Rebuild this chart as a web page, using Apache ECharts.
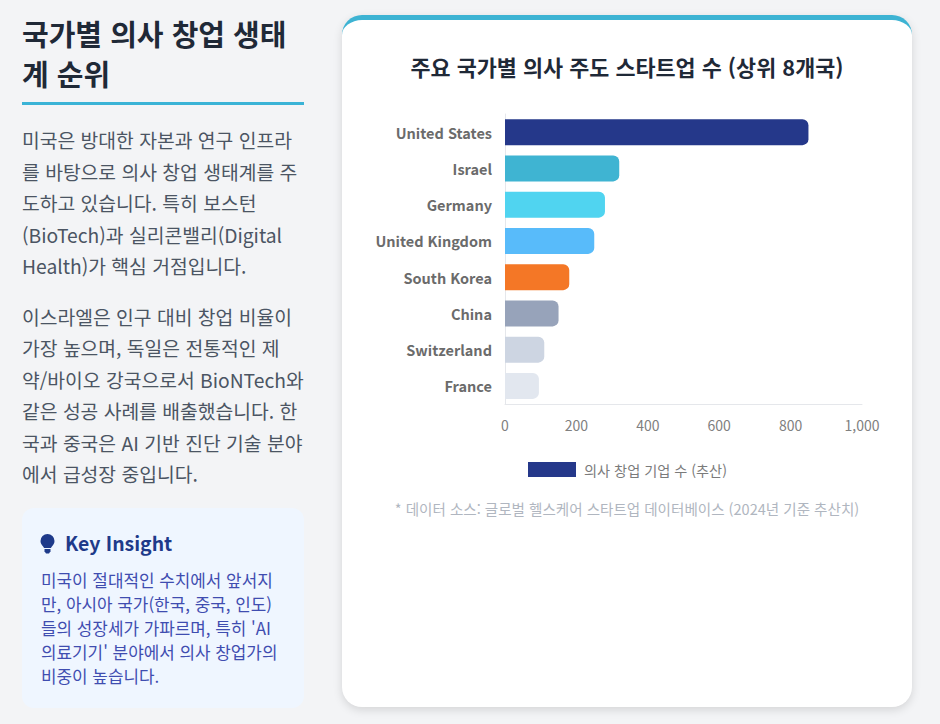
<!DOCTYPE html>
<html lang="ko"><head><meta charset="utf-8">
<script src="https://cdn.jsdelivr.net/npm/echarts@6/dist/echarts.min.js"></script>
<style>
html,body{margin:0;padding:0;width:940px;height:724px;overflow:hidden;background:#f3f4f6;font-family:"Noto Sans CJK KR","Noto Sans",sans-serif}
.abs{position:absolute;white-space:nowrap}
#h{left:22px;top:13px;font-size:29px;font-weight:700;line-height:40px;color:#1f2937}
#rule{left:22px;top:102px;width:282px;height:2.5px;background:#3ab3d6}
.p{left:22px;font-size:19.3px;line-height:31.6px;color:#4b5563}
#box{left:22px;top:508px;width:282px;height:200px;border-radius:12px;background:#eff6ff}
#kt{left:65px;top:528px;font-size:19.4px;line-height:30px;font-weight:700;color:#1e3a8a}
#kb{left:41px;top:568px;font-size:16.9px;line-height:24px;color:#3f4db0}
#bulb{left:40px;top:534px}
#card{left:342px;top:15px;width:570px;height:692px;box-sizing:border-box;background:#fff;border-top:5px solid #3db3d3;border-radius:20px;box-shadow:0 3px 10px rgba(0,0,0,.13)}
#chart{left:342px;top:15px;width:570px;height:480px}
#note{left:342px;width:570px;top:498px;text-align:center;font-size:14.55px;line-height:22px;color:#b0b6c0}
</style></head><body>
<div class="abs" id="h">국가별 의사 창업 생태<br>계 순위</div>
<div class="abs" id="rule"></div>
<div class="abs p" style="top:125px">미국은 방대한 자본과 연구 인프라<br>를 바탕으로 의사 창업 생태계를 주<br>도하고 있습니다. 특히 보스턴<br>(BioTech)과 실리콘밸리(Digital<br>Health)가 핵심 거점입니다.</div>
<div class="abs p" style="top:301.5px">이스라엘은 인구 대비 창업 비율이<br>가장 높으며, 독일은 전통적인 제<br>약/바이오 강국으로서 BioNTech와<br>같은 성공 사례를 배출했습니다. 한<br>국과 중국은 AI 기반 진단 기술 분야<br>에서 급성장 중입니다.</div>
<div class="abs" id="box"></div>
<svg class="abs" id="bulb" width="15" height="20" viewBox="0 0 15 20"><path d="M7.5 0a7 7 0 0 0-7 7c0 2.4 1.3 3.9 2.4 5.2.6.7 1 1.3 1.1 1.8h7c.1-.5.5-1.1 1.1-1.8C13.200 10.900 14.500 9.400 14.500 7a7 7 0 0 0-7-7z" fill="#1e3a8a"/><path d="M4.500 15h6v2.200L9 19.500H6L4.500 17.200z" fill="#1e3a8a"/></svg>
<div class="abs" id="kt">Key Insight</div>
<div class="abs" id="kb">미국이 절대적인 수치에서 앞서지<br>만, 아시아 국가(한국, 중국, 인도)<br>들의 성장세가 가파르며, 특히 'AI<br>의료기기' 분야에서 의사 창업가의<br>비중이 높습니다.</div>
<div class="abs" id="card"></div>
<div class="abs" id="chart"></div>
<div class="abs" id="note">* 데이터 소스: 글로벌 헬스케어 스타트업 데이터베이스 (2024년 기준 추산치)</div>
<script>
const categories = ["United States","Israel","Germany","United Kingdom","South Korea","China","Switzerland","France"];
const values = [850,320,280,250,180,150,110,95];
const barColors = ["#25388a","#3fb4d2","#50d4f0","#58bbfa","#f47726","#97a3ba","#cdd5e2","#e2e7ef"];
const seriesName = "의사 창업 기업 수 (추산)";
const chartTitle = "주요 국가별 의사 주도 스타트업 수 (상위 8개국)";
const font = '"Noto Sans CJK KR","Noto Sans",sans-serif';
const chart = echarts.init(document.getElementById('chart'), null, {renderer:'svg'});
chart.setOption({
  animation:false,
  textStyle:{fontFamily:font},
  title:{text:chartTitle,left:'center',top:36,textStyle:{fontFamily:font,fontSize:21.8,fontWeight:700,color:'#1f2937'}},
  legend:{data:[{name:seriesName,icon:'rect',itemStyle:{color:'#25388a'}}],left:181,top:442,itemWidth:48,itemHeight:15,itemGap:8,
    textStyle:{fontFamily:font,fontSize:14.2,color:'#7b7b7b',padding:[0,0,0,3]}},
  grid:{left:163,right:50,top:99,bottom:91,containLabel:false},
  xAxis:{type:'value',min:0,max:1000,interval:200,
    axisLine:{show:true,lineStyle:{color:'#e5e7eb',width:1}},axisTick:{show:false},splitLine:{show:false},
    axisLabel:{color:'#808080',fontSize:14,margin:14,fontFamily:font,formatter:v=>v.toLocaleString('en-US')}},
  yAxis:{type:'category',inverse:true,data:categories,
    axisLine:{show:true,onZero:false,lineStyle:{color:'#e5e7eb',width:1}},axisTick:{show:false},
    axisLabel:{color:'#6b6b6b',fontSize:14.5,fontWeight:700,margin:13,padding:[0,0,3,0],fontFamily:font}},
  series:[{type:'bar',name:seriesName,barWidth:26,
    data:values.map((v,i)=>({value:v,itemStyle:{color:barColors[i]}})),
    itemStyle:{borderRadius:[0,6,6,0],color:'#25388a'}}]
});
</script>
</body></html>
